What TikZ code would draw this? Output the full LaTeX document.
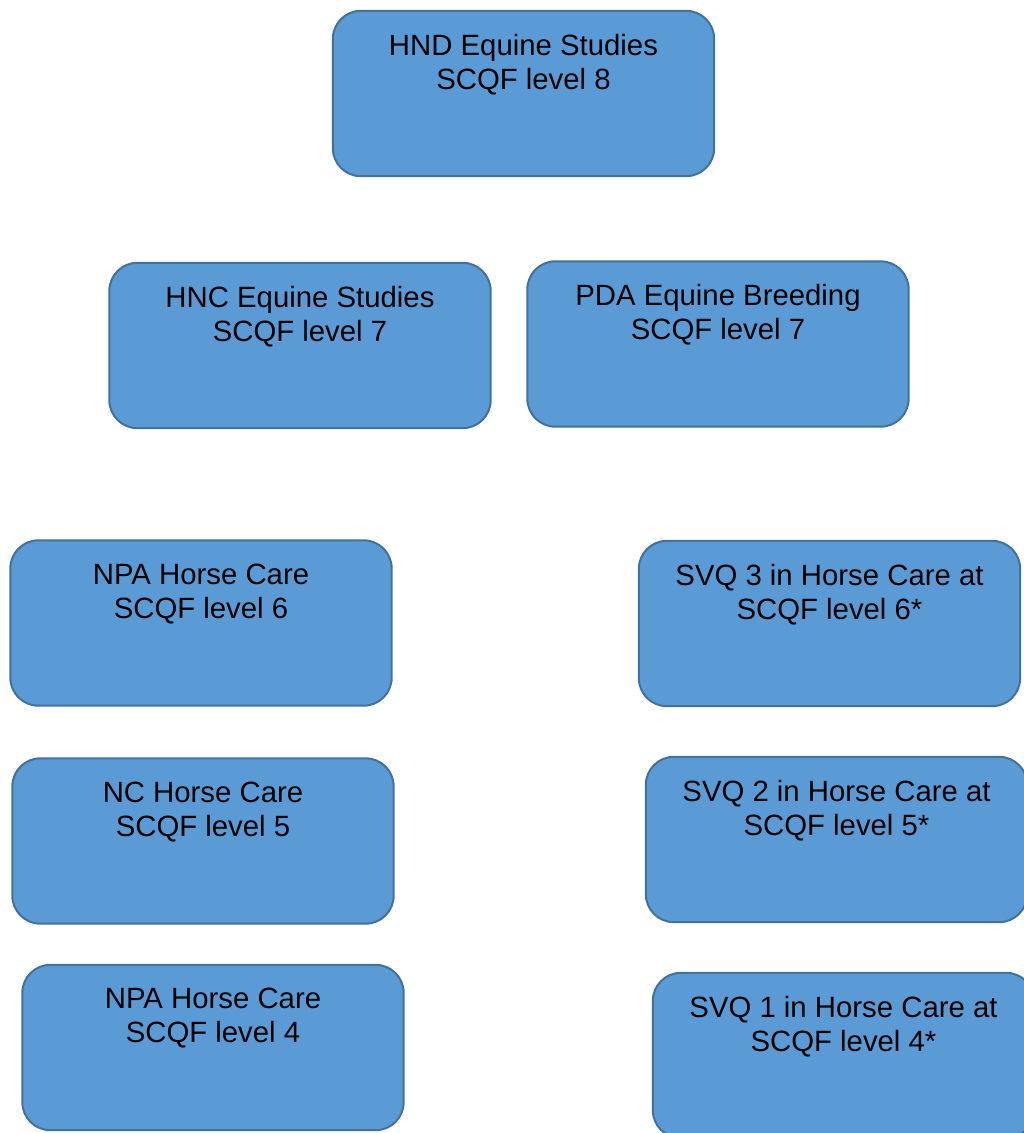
\documentclass[tikz,border=0pt]{standalone}
\usepackage{fontspec}
\setmainfont{Liberation Sans}
\usetikzlibrary{positioning}
\definecolor{boxfill}{HTML}{5B9BD5}
\definecolor{boxline}{HTML}{41719C}
\tikzset{
	course/.style={draw=boxline, fill=boxfill, line width=1.5pt, rounded corners=21pt,
		minimum width=286pt, minimum height=124pt, inner sep=0pt},
	title/.style={align=center, inner sep=0pt, font=\fontsize{22}{25.5}\selectfont}
}

\begin{document}
\begin{tikzpicture}[x=0.75pt, y=-0.75pt]
			%%%%% START %%%%%
			
			\path[use as bounding box, clip] (0, 0) rectangle (1024, 1133);
			
			% top level
			\node[course] (hnd) at (523.5, 93.5) {};
			\node[title, below=18pt of hnd.north] (hndtxt) {HND Equine Studies\\SCQF level 8};
			
			% level 7
			\node[course] (hnc) at (300, 345.5) {};
			\node[title, below=18pt of hnc.north] (hnctxt) {HNC Equine Studies\\SCQF level 7};
			
			\node[course] (pda) at (718, 344) {};
			\node[title, below=18pt of pda.north] (pdatxt) {PDA Equine Breeding\\SCQF level 7};
			
			% left column
			\node[course] (npasix) at (201, 623) {};
			\node[title, below=18pt of npasix.north] (npasixtxt) {NPA Horse Care\\SCQF level 6};
			
			\node[course] (ncfive) at (203, 841) {};
			\node[title, below=18pt of ncfive.north] (ncfivetxt) {NC Horse Care\\SCQF level 5};
			
			\node[course] (npafour) at (213, 1047.5) {};
			\node[title, below=18pt of npafour.north] (npafourtxt) {NPA Horse Care\\SCQF level 4};
			
			% right column
			\node[course] (svqthree) at (829.5, 623.5) {};
			\node[title, below=18pt of svqthree.north] (svqthreetxt) {SVQ 3 in Horse Care at\\SCQF level 6*};
			
			\node[course] (svqtwo) at (836.5, 839.5) {};
			\node[title, below=18pt of svqtwo.north] (svqtwotxt) {SVQ 2 in Horse Care at\\SCQF level 5*};
			
			\node[course] (svqone) at (843.5, 1055.5) {};
			\node[title, below=18pt of svqone.north] (svqonetxt) {SVQ 1 in Horse Care at\\SCQF level 4*};
			
			%%%%% END %%%%%
		\end{tikzpicture}
\end{document}
